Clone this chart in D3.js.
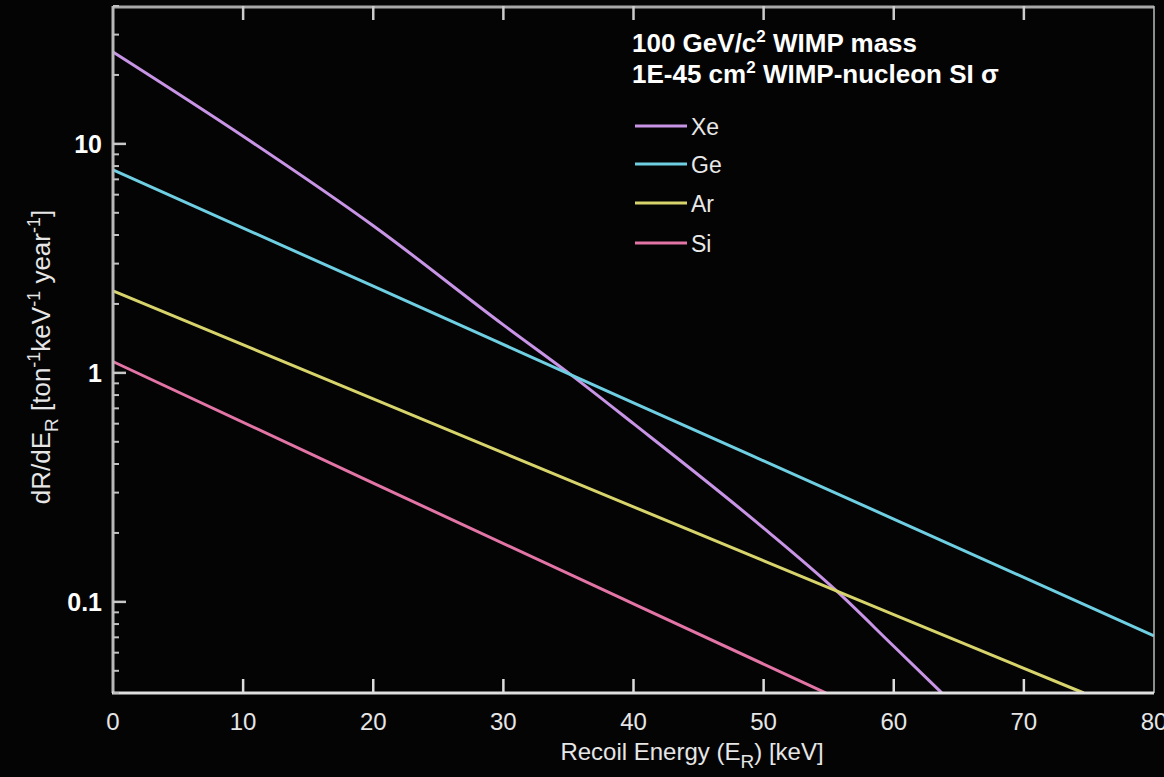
<!DOCTYPE html>
<html>
<head>
<meta charset="utf-8">
<script src="https://cdn.jsdelivr.net/npm/d3@7"></script>
<style>
  body { margin: 0; background: #040404; }
  svg { display: block; }
  text { font-family: "Liberation Sans", Arial, Helvetica, sans-serif; }
</style>
</head>
<body>
<script>
// recoil energy (keV) and rate (ton^-1 keV^-1 year^-1)
var xeEnergy = [0, 10, 20, 30, 35, 40, 50, 55.5, 60, 63.7];
var xeRate   = [25.2, 10.8, 4.39, 1.62, 1.0, 0.60, 0.21, 0.113, 0.064, 0.04];
var geEnergy = [0, 20, 40, 60, 80];
var geRate   = [7.7, 2.39, 0.74, 0.23, 0.071];
var arEnergy = [0, 20, 40, 60, 74.6];
var arRate   = [2.28, 0.77, 0.26, 0.088, 0.04];
var siEnergy = [0, 20, 40, 54.8];
var siRate   = [1.12, 0.33, 0.098, 0.04];

var seriesNames = ["Xe", "Ge", "Ar", "Si"];
var xTicks = [0, 10, 20, 30, 40, 50, 60, 70, 80];
var yMajor = [0.1, 1, 10];
var yMajorLabels = ["0.1", "1", "10"];

var colors = { Xe: "#c894e6", Ge: "#6fcfe2", Ar: "#d8d46c", Si: "#e274a6" };

var W = 1164, H = 777;
var pLeft = 113, pRight = 1154, pTop = 6, pBottom = 693;

var series = [
  { name: "Xe", e: xeEnergy, r: xeRate },
  { name: "Ge", e: geEnergy, r: geRate },
  { name: "Ar", e: arEnergy, r: arRate },
  { name: "Si", e: siEnergy, r: siRate }
];

var x = d3.scaleLinear().domain([0, 80]).range([pLeft, pRight]);
var y = d3.scaleLog().domain([0.04, 40]).range([pBottom, pTop]);

var svg = d3.select("body").append("svg")
  .attr("width", W).attr("height", H);

svg.append("rect").attr("width", W).attr("height", H).attr("fill", "#040404");

svg.append("clipPath").attr("id", "plot")
  .append("rect")
  .attr("x", pLeft).attr("y", pTop)
  .attr("width", pRight - pLeft).attr("height", pBottom - pTop);

// curves
var line = d3.line()
  .x(function(d) { return x(d[0]); })
  .y(function(d) { return y(d[1]); })
  .curve(d3.curveMonotoneX);

svg.append("g").attr("clip-path", "url(#plot)")
  .selectAll("path")
  .data(series)
  .enter()
  .append("path")
  .attr("d", function(s) { return line(d3.zip(s.e, s.r)); })
  .attr("fill", "none")
  .attr("stroke", function(s) { return colors[s.name]; })
  .attr("stroke-width", 3);

// frame
svg.append("line").attr("x1", pLeft).attr("x2", pRight).attr("y1", pTop + 1).attr("y2", pTop + 1)
  .attr("stroke", "#a8a8a8").attr("stroke-width", 3);
svg.append("line").attr("x1", pRight).attr("x2", pRight).attr("y1", pTop).attr("y2", pBottom)
  .attr("stroke", "#bbbbbb").attr("stroke-width", 1.5);
svg.append("line").attr("x1", pLeft).attr("x2", pLeft).attr("y1", pTop).attr("y2", pBottom)
  .attr("stroke", "#b8b8b8").attr("stroke-width", 3);
svg.append("line").attr("x1", pLeft - 1).attr("x2", pRight).attr("y1", pBottom).attr("y2", pBottom)
  .attr("stroke", "#e0e0e0").attr("stroke-width", 3);

// x ticks (bottom, pointing up) and top ticks (pointing down)
var xt = svg.append("g");
xt.selectAll(".bt").data(xTicks.slice(1, -1)).enter().append("line")
  .attr("x1", function(d) { return x(d); }).attr("x2", function(d) { return x(d); })
  .attr("y1", pBottom).attr("y2", pBottom - 14)
  .attr("stroke", "#dddddd").attr("stroke-width", 2.5);
xt.selectAll(".tt").data(xTicks.slice(1, -1)).enter().append("line")
  .attr("x1", function(d) { return x(d); }).attr("x2", function(d) { return x(d); })
  .attr("y1", pTop).attr("y2", pTop + 14)
  .attr("stroke", "#cccccc").attr("stroke-width", 2.5);
xt.selectAll("text").data(xTicks).enter().append("text")
  .attr("x", function(d) { return x(d); })
  .attr("y", 730)
  .attr("text-anchor", "middle")
  .attr("fill", "#e6e6e6")
  .attr("font-size", 24)
  .text(function(d) { return d; });

// y ticks: majors and minors
var minors = [];
[0.01, 0.1, 1, 10].forEach(function(dec) {
  for (var k = 2; k <= 9; k++) {
    var v = dec * k;
    if (v >= 0.04 && v <= 40) minors.push(v);
  }
});
svg.selectAll(".ymin").data(minors).enter().append("line")
  .attr("x1", pLeft).attr("x2", pLeft + 6)
  .attr("y1", function(d) { return y(d); }).attr("y2", function(d) { return y(d); })
  .attr("stroke", "#c0c0c0").attr("stroke-width", 2);
svg.selectAll(".ymaj").data(yMajor).enter().append("line")
  .attr("x1", pLeft).attr("x2", pLeft + 13)
  .attr("y1", function(d) { return y(d); }).attr("y2", function(d) { return y(d); })
  .attr("stroke", "#c8c8c8").attr("stroke-width", 2.5);
svg.selectAll(".ylab").data(yMajor).enter().append("text")
  .attr("x", 102)
  .attr("y", function(d) { return y(d) + 9; })
  .attr("text-anchor", "end")
  .attr("font-size", 25)
  .attr("font-weight", "bold")
  .attr("fill", "#ffffff")
  .text(function(d, i) { return yMajorLabels[i]; });

// axis titles
var xl = svg.append("text")
  .attr("x", 692).attr("y", 760)
  .attr("text-anchor", "middle")
  .attr("font-size", 24)
  .attr("fill", "#e6e6e6");
xl.append("tspan").text("Recoil Energy (E");
xl.append("tspan").attr("font-size", 19).attr("dy", 8).text("R");
xl.append("tspan").attr("dy", -8).text(") [keV]");

var yl = svg.append("text")
  .attr("transform", "translate(50,357) rotate(-90)")
  .attr("text-anchor", "middle")
  .attr("font-size", 26)
  .attr("fill", "#e6e6e6");
yl.append("tspan").text("dR/dE");
yl.append("tspan").attr("font-size", 19).attr("dy", 8).text("R");
yl.append("tspan").attr("dy", -8).text(" [ton");
yl.append("tspan").attr("font-size", 18).attr("dy", -10).text("-1");
yl.append("tspan").attr("dy", 10).text("keV");
yl.append("tspan").attr("font-size", 18).attr("dy", -10).text("-1");
yl.append("tspan").attr("dy", 10).text(" year");
yl.append("tspan").attr("font-size", 18).attr("dy", -10).text("-1");
yl.append("tspan").attr("dy", 10).text("]");

// annotation
var t1 = svg.append("text").attr("x", 632).attr("y", 52)
  .attr("font-size", 26).attr("font-weight", "bold").attr("fill", "#ffffff");
t1.append("tspan").text("100 GeV/c");
t1.append("tspan").attr("font-size", 17).attr("dy", -10).text("2");
t1.append("tspan").attr("dy", 10).text(" WIMP mass");
var t2 = svg.append("text").attr("x", 632).attr("y", 83)
  .attr("font-size", 26).attr("font-weight", "bold").attr("fill", "#ffffff");
t2.append("tspan").text("1E-45 cm");
t2.append("tspan").attr("font-size", 17).attr("dy", -10).text("2");
t2.append("tspan").attr("dy", 10).text(" WIMP-nucleon SI \u03c3");

// legend
var legY = [126, 164, 203, 243];
var leg = svg.selectAll(".leg").data(seriesNames).enter().append("g")
  .attr("transform", function(d, i) { return "translate(635," + legY[i] + ")"; });
leg.append("line").attr("x1", 0).attr("x2", 52).attr("y1", 0).attr("y2", 0)
  .attr("stroke", function(d) { return colors[d]; }).attr("stroke-width", 3);
leg.append("text").attr("x", 56).attr("y", 9)
  .attr("font-size", 23).attr("fill", "#e8e8e8")
  .text(function(d) { return d; });
</script>
</body>
</html>
